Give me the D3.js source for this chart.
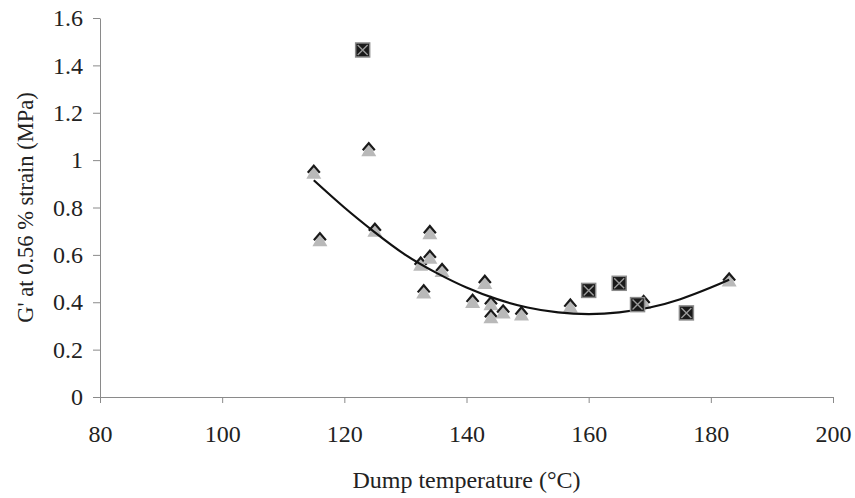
<!DOCTYPE html>
<html>
<head>
<meta charset="utf-8">
<script src="https://cdn.jsdelivr.net/npm/d3@7"></script>
<style>
  body { margin: 0; background: #fff; }
  svg text { font-family: "Liberation Serif", "Times New Roman", serif; fill: #222; }
  .axis path, .axis line { stroke: #8a8a8a; }
</style>
</head>
<body>
<div id="chart"></div>
<script>
  // triangles: dump temperature (°C) and G' (MPa)
  const triTemp = [115, 116, 124, 125, 133, 132.5, 134, 134, 136, 141, 143, 144, 144, 146, 149, 157, 169, 183];
  const triG    = [0.945, 0.66, 1.04, 0.70, 0.44, 0.557, 0.586, 0.69, 0.53, 0.40, 0.48, 0.39, 0.335, 0.355, 0.347, 0.38, 0.395, 0.49];

  // squares
  const sqTemp = [123, 160, 165, 168, 176];
  const sqG    = [1.465, 0.45, 0.48, 0.39, 0.355];

  // trend line
  const trendTemp = [115, 120, 125, 130, 135, 140, 145, 150, 155, 160, 165, 170, 175, 180, 183];
  const trendG    = [0.915, 0.80, 0.695, 0.60, 0.525, 0.462, 0.413, 0.378, 0.357, 0.350, 0.357, 0.378, 0.413, 0.462, 0.495];

  const xTicks = [80, 100, 120, 140, 160, 180, 200];
  const yTicks = [0, 0.2, 0.4, 0.6, 0.8, 1, 1.2, 1.4, 1.6];

  const width = 855, height = 498;
  const margin = { top: 18, right: 22, bottom: 101, left: 100 };

  const svg = d3.select("#chart").append("svg")
    .attr("width", width)
    .attr("height", height);

  const xScale = d3.scaleLinear().domain([80, 200]).range([margin.left, width - margin.right]);
  const yScale = d3.scaleLinear().domain([0, 1.6]).range([height - margin.bottom, margin.top]);

  // axes
  svg.append("g")
    .attr("class", "axis x-axis")
    .attr("transform", `translate(0,${height - margin.bottom})`)
    .call(d3.axisBottom(xScale).tickValues(xTicks).tickSize(6).tickSizeOuter(0).tickPadding(22))
    .call(g => g.selectAll("text").attr("font-size", 24));

  svg.append("g")
    .attr("class", "axis y-axis")
    .attr("transform", `translate(${margin.left},0)`)
    .call(d3.axisLeft(yScale).tickValues(yTicks).tickFormat(d3.format("~g")).tickSize(7).tickSizeOuter(0).tickPadding(10))
    .call(g => g.selectAll("text").attr("font-size", 24));

  // axis titles
  svg.append("text")
    .attr("x", (margin.left + width - margin.right) / 2)
    .attr("y", 488)
    .attr("text-anchor", "middle")
    .attr("font-size", 24)
    .text("Dump temperature (°C)");

  svg.append("text")
    .attr("transform", `translate(33,${(margin.top + height - margin.bottom) / 2}) rotate(-90)`)
    .attr("text-anchor", "middle")
    .attr("font-size", 22.5)
    .text("G' at 0.56 % strain (MPa)");

  // triangles
  const tri = d3.zip(triTemp, triG);
  const s = 7.5;
  const triG_ = svg.append("g").selectAll("g.tri").data(tri).join("g")
    .attr("class", "tri")
    .attr("transform", d => `translate(${xScale(d[0])},${yScale(d[1])})`);
  triG_.append("path")
    .attr("d", `M0,${-s}L${s},${s * 0.75}L${-s},${s * 0.75}Z`)
    .attr("fill", "#b9b9b9");
  triG_.append("path")
    .attr("d", `M${-s * 0.8},${-s * 0.05}L0,${-s}L${s * 0.8},${-s * 0.05}`)
    .attr("fill", "none")
    .attr("stroke", "#1a1a1a")
    .attr("stroke-width", 2.2);

  // trend line
  const lineFunc = d3.line()
    .x(d => xScale(d[0]))
    .y(d => yScale(d[1]))
    .curve(d3.curveNatural);

  svg.append("path")
    .datum(d3.zip(trendTemp, trendG))
    .attr("d", lineFunc)
    .attr("fill", "none")
    .attr("stroke", "#111")
    .attr("stroke-width", 2.2);

  // squares
  const sq = d3.zip(sqTemp, sqG);
  const h = 7;
  const sqG_ = svg.append("g").selectAll("g.sq").data(sq).join("g")
    .attr("class", "sq")
    .attr("transform", d => `translate(${xScale(d[0])},${yScale(d[1])})`);
  sqG_.append("rect")
    .attr("x", -h).attr("y", -h).attr("width", 2 * h).attr("height", 2 * h)
    .attr("fill", "#1a1a1a")
    .attr("stroke", "#8a8a8a")
    .attr("stroke-width", 1.5);
  sqG_.append("path")
    .attr("d", `M${-h + 2},${-h + 2}L${h - 2},${h - 2}M${h - 2},${-h + 2}L${-h + 2},${h - 2}`)
    .attr("stroke", "#9a9a9a")
    .attr("stroke-width", 1.4);
</script>
</body>
</html>
